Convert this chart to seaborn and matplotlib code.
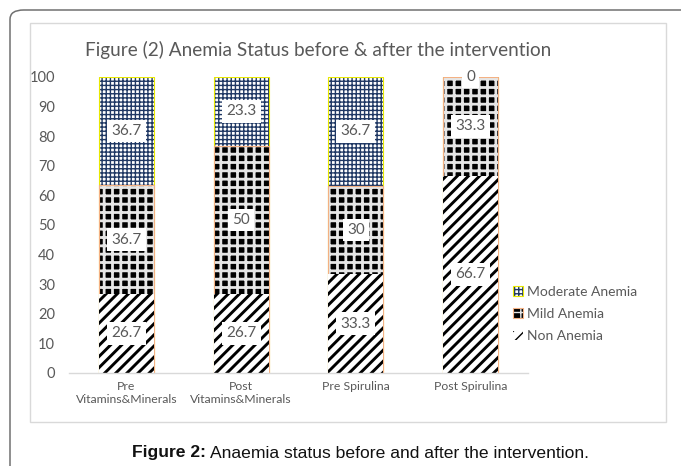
import numpy as np
import pandas as pd
import matplotlib
matplotlib.use('Agg')
import matplotlib.pyplot as plt
from matplotlib.colors import to_rgba
from matplotlib.patches import Patch, FancyBboxPatch, Rectangle
import seaborn as sns

groups = ["Pre\nVitamins&Minerals", "Post\nVitamins&Minerals", "Pre Spirulina", "Post Spirulina"]
non_anemia = [26.7, 26.7, 33.3, 66.7]
mild_anemia = [36.7, 50, 30, 33.3]
moderate_anemia = [36.7, 23.3, 36.7, 0]
non_lbl = ["26.7", "26.7", "33.3", "66.7"]
mild_lbl = ["36.7", "50", "30", "33.3"]
mod_lbl = ["36.7", "23.3", "36.7", "0"]

GRAY = '#595959'

sns.set_style('white')
plt.rcParams['font.family'] = ['Lato', 'DejaVu Sans']


def style_bars(patches, face, hatch, hcolor, hlw, edge, elw):
    for p in patches:
        p.set_facecolor(face)
        p.set_hatch(hatch)
        p.set_edgecolor(edge)
        p.set_linewidth(elw)
        p._hatch_color = to_rgba(hcolor)
        if hasattr(p, 'set_hatch_linewidth'):
            p.set_hatch_linewidth(hlw)
        else:
            p._hatch_linewidth = hlw


def main():
    fig = plt.figure(figsize=(6.81, 4.66), dpi=100)
    ax = fig.add_axes([69 / 681, 1 - 373 / 466, (528 - 69) / 681, (373 - 77) / 466])

    cum_non = np.array(non_anemia)
    cum_mild = cum_non + np.array(mild_anemia)
    cum_mod = cum_mild + np.array(moderate_anemia)
    df = pd.DataFrame({'group': groups, 'non': cum_non, 'mild': cum_mild, 'mod': cum_mod})

    # stacked by overdrawing cumulative heights, top layer first
    layers = [
        ('mod', dict(face='white', hatch='++++', hcolor='#1F3864', hlw=1.0, edge='#E8E800', elw=0.8)),
        ('mild', dict(face='black', hatch='++', hcolor='#E6E6E6', hlw=2.0, edge='#F4B183', elw=0.8)),
        ('non', dict(face='white', hatch='///', hcolor='black', hlw=2.1, edge='white', elw=0)),
    ]
    for col, st in layers:
        n0 = len(ax.patches)
        sns.barplot(data=df, x='group', y=col, width=0.48, ax=ax, color='white')
        style_bars(ax.patches[n0:], **st)

    # value labels
    bottoms = [np.zeros(4), cum_non, cum_mild]
    heights = [non_anemia, mild_anemia, moderate_anemia]
    labels = [non_lbl, mild_lbl, mod_lbl]
    for b, h, lb in zip(bottoms, heights, labels):
        for i in range(4):
            ax.text(i, b[i] + h[i] / 2, lb[i], ha='center', va='center', fontsize=11,
                    color=GRAY, zorder=5,
                    bbox=dict(boxstyle='square,pad=0.28', fc='white', ec='none'))

    ax.set_ylim(0, 100)
    ax.set_xlim(-0.5, 3.5)
    ax.set_yticks(range(0, 101, 10))
    ax.set_xlabel('')
    ax.set_ylabel('')
    ax.tick_params(axis='y', length=0, pad=10, labelsize=10.5, labelcolor=GRAY)
    ax.tick_params(axis='x', length=0, pad=6, labelsize=8.8, labelcolor=GRAY)
    for s in ['left', 'right', 'top']:
        ax.spines[s].set_visible(False)
    ax.spines['bottom'].set_color('#D9D9D9')
    ax.spines['bottom'].set_linewidth(1)
    ax.patch.set_alpha(0)

    # legend
    handles = []
    for col, st in layers:
        p = Patch(facecolor=st['face'], hatch=st['hatch'], edgecolor=st['edge'], lw=st['elw'])
        p._hatch_color = to_rgba(st['hcolor'])
        handles.append(p)
    fig.legend(handles, ['Moderate Anemia', 'Mild Anemia', 'Non Anemia'],
               loc='center left', bbox_to_anchor=(513 / 681, 1 - 314 / 466),
               frameon=False, fontsize=10, labelcolor=GRAY, handlelength=0.7,
               handleheight=0.7, handletextpad=0.3, labelspacing=0.75, borderpad=0,
               borderaxespad=0)

    fig.text(85 / 681, 1 - 50 / 466, 'Figure (2) Anemia Status before & after the intervention',
             fontsize=13.7, color=GRAY, ha='left', va='center')

    # frames
    fig.patches.append(Rectangle((30 / 681, 1 - 422 / 466), (666 - 30) / 681, (422 - 23) / 466,
                                 transform=fig.transFigure, fill=False, ec='#D9D9D9', lw=1))
    fig.patches.append(FancyBboxPatch((10 / 681, -0.2), 1.2, 1.2 - 10 / 466,
                                      boxstyle='round,pad=0,rounding_size=0.02',
                                      transform=fig.transFigure, fill=False, ec='#707070', lw=1.1))

    # caption
    t1 = fig.text(132 / 681, 1 - 453 / 466, 'Figure 2:', fontsize=12.6, fontweight='bold',
                  family='Liberation Sans', color='#111111', ha='left', va='center')
    fig.canvas.draw()
    bb = t1.get_window_extent()
    fig.text((bb.x1 + 4) / 681, 1 - 453 / 466, 'Anaemia status before and after the intervention.',
             fontsize=12.6, family='Liberation Sans', color='#111111', ha='left', va='center')

    fig.savefig('out.png', dpi=100)


if __name__ == '__main__':
    main()
